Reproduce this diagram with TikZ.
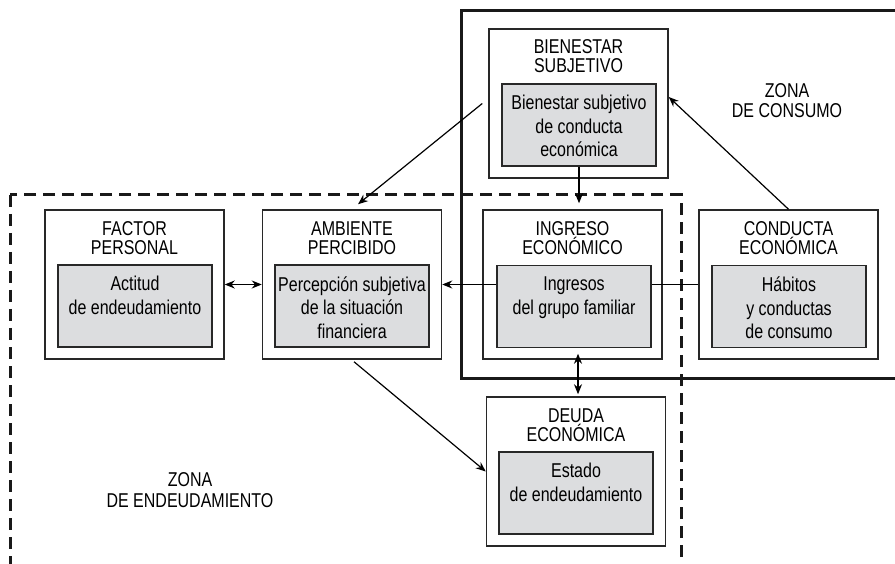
\documentclass[tikz,border=0pt]{standalone}
\usepackage{fontspec}
\setmainfont{Liberation Sans}[FakeStretch=0.8]
\usetikzlibrary{arrows.meta,calc}
\definecolor{boxgray}{RGB}{220,221,223}
\definecolor{edge}{RGB}{40,40,40}
\begin{document}
\begin{tikzpicture}[x=1pt,y=1pt,
  obox/.style={draw=edge, line width=1.5pt, minimum width=179pt, minimum height=149pt, inner sep=0pt},
  ibox/.style={draw=edge, fill=boxgray, line width=1.5pt, minimum width=154pt, minimum height=82pt, inner sep=0pt},
  ttl/.style={align=center, inner sep=0pt, text=black, font=\fontsize{20}{19.5}\selectfont},
  txt/.style={align=center, inner sep=0pt, text=black, font=\fontsize{20}{23.5}\selectfont},
  zonelbl/.style={align=center, inner sep=0pt, text=black, font=\fontsize{20}{20.5}\selectfont},
  conn/.style={line width=1.2pt, black},
  arr/.style={-{Stealth[length=10pt,width=8pt]}},
  darr/.style={{Stealth[length=10pt,width=8pt]}-{Stealth[length=10pt,width=8pt]}},
  dashzone/.style={line width=3pt, black!90, dash pattern=on 12pt off 7pt},
  solidzone/.style={line width=3pt, black!90}
]
\clip (0,0) rectangle (895,-564);
\fill[white] (0,0) rectangle (895,-564);

% zones
\draw[solidzone] (461,-11) rectangle (920,-378);
\draw[dashzone] (10,-195) rectangle (681,-620);

% outer boxes
\node[obox] (bs) at (578.5,-103.5) {};
\node[obox] (ig) at (572.5,-284.5) {};
\node[obox] (cd) at (788.5,-284.5) {};
\node[obox] (fp) at (134.5,-284.5) {};
\node[obox] (am) at (352,-284.5) {};
\node[obox] (de) at (576,-471.5) {};

% connector behind inner boxes
\draw[conn,arr] (cd.west) -- (am.east);

% inner boxes
\node[ibox] (bsI) at (579,-125) {};
\node[ibox] (igI) at (574,-306.5) {};
\node[ibox] (cdI) at (789,-306.5) {};
\node[ibox] (fpI) at (135,-306) {};
\node[ibox] (amI) at (352,-306) {};
\node[ibox] (deI) at (576,-493) {};

% titles
\node[ttl, anchor=north] (bsT) at ($(bs.north)+(0,-11)$) {BIENESTAR\\SUBJETIVO};
\node[ttl, anchor=north] (igT) at ($(ig.north)+(0,-12)$) {INGRESO\\ECONÓMICO};
\node[ttl, anchor=north] (cdT) at ($(cd.north)+(0,-12)$) {CONDUCTA\\ECONÓMICA};
\node[ttl, anchor=north] (fpT) at ($(fp.north)+(0,-12)$) {FACTOR\\PERSONAL};
\node[ttl, anchor=north] (amT) at ($(am.north)+(0,-12)$) {AMBIENTE\\PERCIBIDO};
\node[ttl, anchor=north] (deT) at ($(de.north)+(0,-12)$) {DEUDA\\ECONÓMICA};

% inner texts
\node[txt, anchor=north] (bsX) at ($(bsI.north)+(0,-12)$) {Bienestar subjetivo\\de conducta\\económica};
\node[txt, anchor=north] (igX) at ($(igI.north)+(0,-12)$) {Ingresos\\del grupo familiar};
\node[txt, anchor=north] (cdX) at ($(cdI.north)+(0,-12)$) {Hábitos\\y conductas\\de consumo};
\node[txt, anchor=north] (fpX) at ($(fpI.north)+(0,-12)$) {Actitud\\de endeudamiento};
\node[txt, anchor=north] (amX) at ($(amI.north)+(0,-12)$) {Percepción subjetiva\\de la situación\\financiera};
\node[txt, anchor=north] (deX) at ($(deI.north)+(0,-12)$) {Estado\\de endeudamiento};

% zone labels
\node[zonelbl, anchor=north] (zc) at (787,-83) {ZONA\\DE CONSUMO};
\node[zonelbl, anchor=north] (ze) at (190,-472.5) {ZONA\\DE ENDEUDAMIENTO};

% connectors
\draw[conn,arr] ($(bs.west)+(-6,0)$) -- ($(am.north)+(6,5)$);
\draw[conn,arr] (bsI.south) -- ($(bsI.south |- ig.north)+(0,6)$);
\draw[conn,arr] (cd.north) -- ($(bs.east)+(0,6.5)$);
\draw[conn,darr] (fp.east) -- (am.west);
\draw[conn,darr] ($(ig.south)+(5.5,6)$) -- ($(de.north)+(2,2)$);
\draw[conn,arr] ($(am.south)+(2,-2)$) -- (de.west);
\end{tikzpicture}
\end{document}
